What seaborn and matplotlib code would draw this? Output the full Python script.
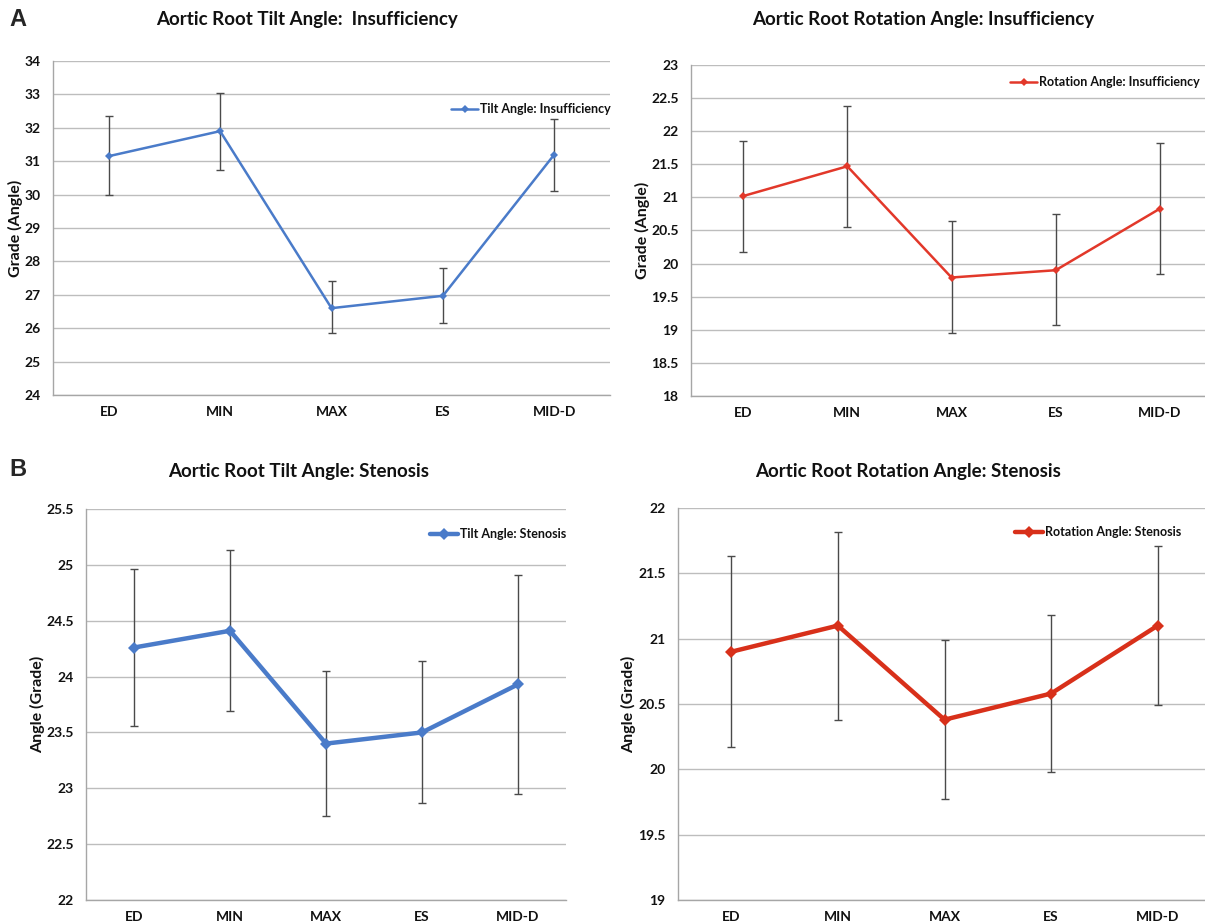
import matplotlib
matplotlib.use("Agg")
import matplotlib.pyplot as plt
import seaborn as sns
import pandas as pd
from matplotlib.ticker import FixedLocator

sns.set_theme(style="white")
plt.rcParams['font.family'] = ['Lato', 'DejaVu Sans']
plt.rcParams['font.weight'] = 'bold'

phases = ["ED", "MIN", "MAX", "ES", "MID-D"]

tilt_ins = [31.15, 31.9, 26.6, 26.97, 31.2]
tilt_ins_lo = [30.0, 30.75, 25.85, 26.15, 30.1]
tilt_ins_hi = [32.35, 33.05, 27.4, 27.8, 32.25]

rot_ins = [21.02, 21.47, 19.79, 19.9, 20.83]
rot_ins_lo = [20.18, 20.55, 18.95, 19.07, 19.85]
rot_ins_hi = [21.85, 22.38, 20.65, 20.75, 21.82]

tilt_ste = [24.26, 24.41, 23.40, 23.50, 23.93]
tilt_ste_lo = [23.56, 23.69, 22.75, 22.87, 22.95]
tilt_ste_hi = [24.96, 25.13, 24.05, 24.14, 24.91]

rot_ste = [20.9, 21.1, 20.38, 20.58, 21.1]
rot_ste_lo = [20.17, 20.38, 19.77, 19.98, 20.49]
rot_ste_hi = [21.63, 21.82, 20.99, 21.18, 21.71]

W, H = 1205, 923
fig = plt.figure(figsize=(W / 100, H / 100), dpi=100)

def add_ax(l, r, t, b):
    return fig.add_axes([l / W, 1 - b / H, (r - l) / W, (b - t) / H])

BLUE = "#4A7BC9"
RED1 = "#E2382A"
RED2 = "#D8301A"
TXT = "#111111"

panels = [
    dict(box=(53, 610, 61, 395), vals=tilt_ins, lo=tilt_ins_lo, hi=tilt_ins_hi,
         color=BLUE, lw=1.8, ms=4.5, label="Tilt Angle: Insufficiency",
         ylim=(24, 34), yticks=[24, 25, 26, 27, 28, 29, 30, 31, 32, 33, 34],
         ylabel="Grade (Angle)", title="Aortic Root Tilt Angle:  Insufficiency",
         tpos=(307, 19), leg=(611, 109), ylab_x=15, minor=False),
    dict(box=(691, 1212, 65, 396), vals=rot_ins, lo=rot_ins_lo, hi=rot_ins_hi,
         color=RED1, lw=1.8, ms=4.5, label="Rotation Angle: Insufficiency",
         ylim=(18, 23), yticks=[18, 18.5, 19, 19.5, 20, 20.5, 21, 21.5, 22, 22.5, 23],
         ylabel="Grade (Angle)", title="Aortic Root Rotation Angle: Insufficiency",
         tpos=(923, 19), leg=(1200, 82), ylab_x=642, minor=False),
    dict(box=(86, 566, 509, 900), vals=tilt_ste, lo=tilt_ste_lo, hi=tilt_ste_hi,
         color=BLUE, lw=3.2, ms=6, label="Tilt Angle: Stenosis",
         ylim=(22, 25.5), yticks=[22, 22.5, 23, 23.5, 24, 24.5, 25, 25.5],
         ylabel="Angle (Grade)", title="Aortic Root Tilt Angle: Stenosis",
         tpos=(299, 472), leg=(566, 534), ylab_x=38, minor=True),
    dict(box=(678, 1211, 508, 900), vals=rot_ste, lo=rot_ste_lo, hi=rot_ste_hi,
         color=RED2, lw=3.2, ms=6, label="Rotation Angle: Stenosis",
         ylim=(19, 22), yticks=[19, 19.5, 20, 20.5, 21, 21.5, 22],
         ylabel="Angle (Grade)", title="Aortic Root Rotation Angle: Stenosis",
         tpos=(908, 472), leg=(1181, 532), ylab_x=629, minor=True),
]

for p in panels:
    l, r, t, b = p["box"]
    ax = add_ax(l, r, t, b)
    df = pd.DataFrame({"phase": phases, "value": p["vals"]})
    yerr_lo = [v - lo for v, lo in zip(p["vals"], p["lo"])]
    yerr_hi = [hi - v for v, hi in zip(p["vals"], p["hi"])]
    ax.errorbar(phases, p["vals"], yerr=[yerr_lo, yerr_hi], fmt="none",
                ecolor="#4a4a4a", elinewidth=1.0, capsize=3, capthick=1.0, zorder=2)
    sns.lineplot(data=df, x="phase", y="value", sort=False, ax=ax, color=p["color"],
                 lw=p["lw"], marker="D", markersize=p["ms"], markeredgewidth=0,
                 label=p["label"], zorder=3)
    ax.set_xlim(-0.5, 4.5)
    ax.set_ylim(*p["ylim"])
    ax.set_yticks(p["yticks"])
    ax.set_yticklabels([f"{v:g}" for v in p["yticks"]])
    ax.grid(axis="y", color="#BDBDBD", lw=1.0)
    ax.grid(axis="x", visible=False)
    ax.set_axisbelow(True)
    for s in ["top", "right"]:
        ax.spines[s].set_visible(False)
    for s in ["left", "bottom"]:
        ax.spines[s].set_color("#A6A6A6")
        ax.spines[s].set_linewidth(1.0)
    ax.tick_params(axis="y", length=5, color="#A6A6A6", width=1.0, pad=4,
                   labelsize=10, labelcolor=TXT)
    ax.tick_params(axis="x", length=0, pad=8, labelsize=10, labelcolor=TXT)
    if p["minor"]:
        ax.xaxis.set_minor_locator(FixedLocator([-0.5, 0.5, 1.5, 2.5, 3.5, 4.5]))
        ax.tick_params(axis="x", which="minor", length=5, color="#A6A6A6", width=1.0)
    for lab in ax.get_xticklabels() + ax.get_yticklabels():
        lab.set_fontweight("bold")
    ax.set_xlabel("")
    ax.set_ylabel("")
    fig.text(p["ylab_x"] / W, 1 - ((t + b) / 2) / H, p["ylabel"], rotation=90,
             ha="center", va="center", fontsize=11.5, fontweight="bold", color=TXT)
    fig.text(p["tpos"][0] / W, 1 - p["tpos"][1] / H, p["title"], ha="center",
             va="center", fontsize=13.5, fontweight="bold", color=TXT)
    lx, ly = p["leg"]
    leg = ax.legend(loc="center right", bbox_to_anchor=(lx / W, 1 - ly / H),
                    bbox_transform=fig.transFigure, frameon=False, fontsize=9,
                    handlelength=2.2, handletextpad=0.15, borderpad=0, borderaxespad=0)
    for txt in leg.get_texts():
        txt.set_fontweight("bold")
        txt.set_color(TXT)

fig.text(18 / W, 1 - 19 / H, "A", ha="center", va="center", fontsize=17,
         fontweight="bold", family=["Liberation Sans", "DejaVu Sans"])
fig.text(18 / W, 1 - 470 / H, "B", ha="center", va="center", fontsize=17,
         fontweight="bold", family=["Liberation Sans", "DejaVu Sans"])

fig.savefig("out.png", dpi=100)
